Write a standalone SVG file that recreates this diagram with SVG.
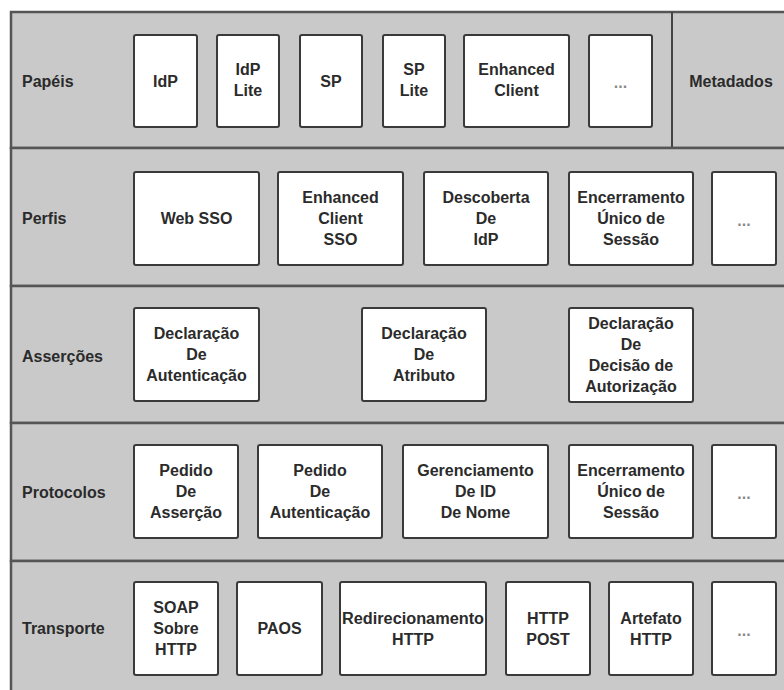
<svg xmlns="http://www.w3.org/2000/svg" width="784" height="690" viewBox="0 0 784 690">
<style>
.row{fill:#c9c9c9;stroke:#555;stroke-width:2.5}
.box{fill:#fff;stroke:#3a3a3a;stroke-width:2}
text{font-family:"Liberation Sans",Arial,sans-serif;font-weight:bold;font-size:16px;fill:#2b2b2b;text-anchor:middle}
.lbl{text-anchor:start}
.dots{fill:#8a8a8a}
</style>
<rect x="0" y="0" width="784" height="690" fill="#fff"/>
<g id="row-papeis">
<rect class="row" x="11" y="12" width="790" height="136"/>
<line x1="672" y1="12" x2="672" y2="148" stroke="#444" stroke-width="2"/>
<text class="lbl" x="22" y="86.7">Papéis</text>
<text x="731" y="86.7">Metadados</text>
</g>
<g id="row-perfis">
<rect class="row" x="11" y="148" width="790" height="138"/>
<text class="lbl" x="22" y="223.7">Perfis</text>
</g>
<g id="row-assercoes">
<rect class="row" x="11" y="286" width="790" height="137"/>
<text class="lbl" x="22" y="361.7">Asserções</text>
</g>
<g id="row-protocolos">
<rect class="row" x="11" y="423" width="790" height="138"/>
<text class="lbl" x="22" y="497.7">Protocolos</text>
</g>
<g id="row-transporte">
<rect class="row" x="11" y="561" width="790" height="140"/>
<text class="lbl" x="22" y="633.7">Transporte</text>
</g>

<g id="idp"><rect class="box" x="134" y="35" width="63" height="92" rx="2"/><text x="165.5" y="86.7">IdP</text></g>
<g id="idp-lite"><rect class="box" x="217" y="35" width="62" height="92" rx="2"/><text x="248" y="75.2">IdP<tspan x="248" y="96.2">Lite</tspan></text></g>
<g id="sp"><rect class="box" x="300" y="35" width="62" height="92" rx="2"/><text x="331" y="86.7">SP</text></g>
<g id="sp-lite"><rect class="box" x="383" y="35" width="62" height="92" rx="2"/><text x="414" y="75.2">SP<tspan x="414" y="96.2">Lite</tspan></text></g>
<g id="enhanced-client"><rect class="box" x="464" y="35" width="105" height="92" rx="2"/><text x="516.5" y="75.2">Enhanced<tspan x="516.5" y="96.2">Client</tspan></text></g>
<g id="papeis-more"><rect class="box" x="589" y="35" width="63" height="92" rx="2"/><text class="dots" x="620.5" y="88">...</text></g>

<g id="web-sso"><rect class="box" x="134" y="172" width="125" height="93" rx="2"/><text x="196.5" y="224.2">Web SSO</text></g>
<g id="enhanced-client-sso"><rect class="box" x="278" y="172" width="125" height="93" rx="2"/><text x="340.5" y="203.2">Enhanced<tspan x="340.5" y="224.2">Client</tspan><tspan x="340.5" y="245.2">SSO</tspan></text></g>
<g id="descoberta-idp"><rect class="box" x="424" y="172" width="124" height="93" rx="2"/><text x="486" y="203.2">Descoberta<tspan x="486" y="224.2">De</tspan><tspan x="486" y="245.2">IdP</tspan></text></g>
<g id="perfis-encerramento"><rect class="box" x="569" y="172" width="124" height="93" rx="2"/><text x="631" y="203.2">Encerramento<tspan x="631" y="224.2">Único de</tspan><tspan x="631" y="245.2">Sessão</tspan></text></g>
<g id="perfis-more"><rect class="box" x="712" y="172" width="64" height="93" rx="2"/><text class="dots" x="744" y="225.5">...</text></g>

<g id="decl-autenticacao"><rect class="box" x="134" y="308" width="125" height="93" rx="2"/><text x="196.5" y="339.2">Declaração<tspan x="196.5" y="360.2">De</tspan><tspan x="196.5" y="381.2">Autenticação</tspan></text></g>
<g id="decl-atributo"><rect class="box" x="362" y="308" width="124" height="93" rx="2"/><text x="424" y="339.2">Declaração<tspan x="424" y="360.2">De</tspan><tspan x="424" y="381.2">Atributo</tspan></text></g>
<g id="decl-autorizacao"><rect class="box" x="569" y="308" width="124" height="94" rx="2"/><text x="631" y="328.7">Declaração<tspan x="631" y="349.7">De</tspan><tspan x="631" y="370.7">Decisão de</tspan><tspan x="631" y="391.7">Autorização</tspan></text></g>

<g id="pedido-assercao"><rect class="box" x="134" y="445" width="104" height="93" rx="2"/><text x="186" y="476.2">Pedido<tspan x="186" y="497.2">De</tspan><tspan x="186" y="518.2">Asserção</tspan></text></g>
<g id="pedido-autenticacao"><rect class="box" x="258" y="445" width="124" height="93" rx="2"/><text x="320" y="476.2">Pedido<tspan x="320" y="497.2">De</tspan><tspan x="320" y="518.2">Autenticação</tspan></text></g>
<g id="gerenciamento-id"><rect class="box" x="403" y="445" width="145" height="93" rx="2"/><text x="475.5" y="476.2">Gerenciamento<tspan x="475.5" y="497.2">De ID</tspan><tspan x="475.5" y="518.2">De Nome</tspan></text></g>
<g id="protocolos-encerramento"><rect class="box" x="569" y="445" width="124" height="93" rx="2"/><text x="631" y="476.2">Encerramento<tspan x="631" y="497.2">Único de</tspan><tspan x="631" y="518.2">Sessão</tspan></text></g>
<g id="protocolos-more"><rect class="box" x="712" y="445" width="64" height="93" rx="2"/><text class="dots" x="744" y="498.5">...</text></g>

<g id="soap-http"><rect class="box" x="134" y="582" width="84" height="93" rx="2"/><text x="176" y="613.2">SOAP<tspan x="176" y="634.2">Sobre</tspan><tspan x="176" y="655.2">HTTP</tspan></text></g>
<g id="paos"><rect class="box" x="237" y="582" width="85" height="93" rx="2"/><text x="279.5" y="634.2">PAOS</text></g>
<g id="redirecionamento-http"><rect class="box" x="340" y="582" width="146" height="93" rx="2"/><text x="413" y="623.7" textLength="142" lengthAdjust="spacingAndGlyphs">Redirecionamento</text><text x="413" y="644.7">HTTP</text></g>
<g id="http-post"><rect class="box" x="506" y="582" width="84" height="93" rx="2"/><text x="548" y="623.7">HTTP<tspan x="548" y="644.7">POST</tspan></text></g>
<g id="artefato-http"><rect class="box" x="609" y="582" width="84" height="93" rx="2"/><text x="651" y="623.7">Artefato<tspan x="651" y="644.7">HTTP</tspan></text></g>
<g id="transporte-more"><rect class="box" x="712" y="582" width="64" height="93" rx="2"/><text class="dots" x="744" y="635.5">...</text></g>
</svg>
